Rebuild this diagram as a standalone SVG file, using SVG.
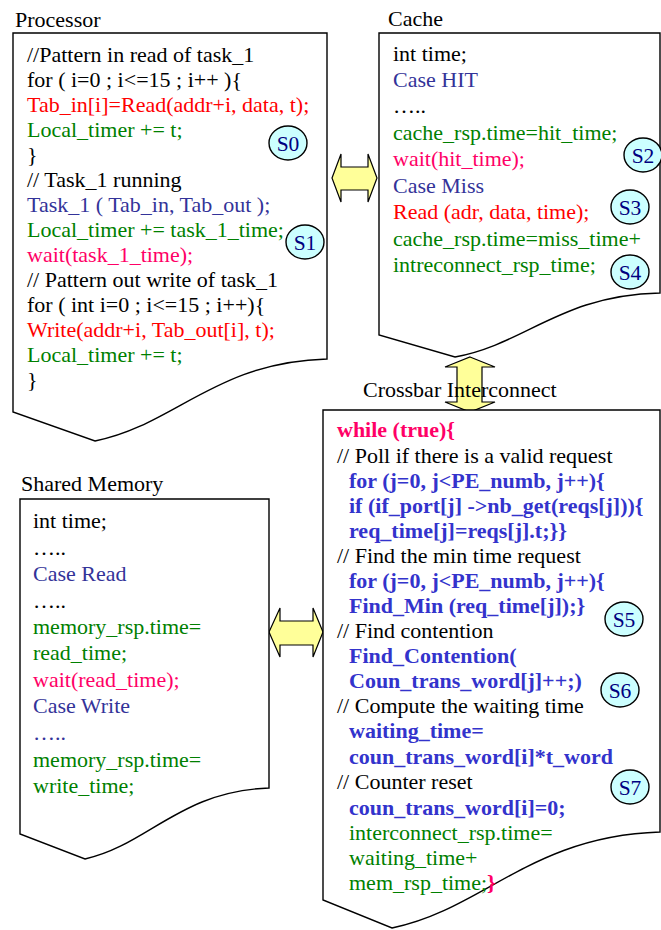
<svg xmlns="http://www.w3.org/2000/svg" width="661" height="930" viewBox="0 0 661 930">
  <style>
    text { font-family: "Liberation Serif", "Times New Roman", serif; font-size: 22px; fill: #000; }
    .box { fill: #fff; stroke: #000; stroke-width: 1.4; }
    .arrow { fill: #ffff99; stroke: #000; stroke-width: 1.2; stroke-linejoin: miter; }
    .blk { fill: #000; }
    .blu { fill: #333399; }
    .red { fill: #ff0000; }
    .grn { fill: #008000; }
    .pnk { fill: #ff0066; }
    .bb { fill: #3333cc; font-weight: bold; }
    .bp { fill: #ff0066; font-weight: bold; }
    .tag ellipse { fill: #ccffff; stroke: #000; stroke-width: 1.4; }
    .tag text { fill: #000080; text-anchor: middle; font-size: 21.5px; }
  </style>

  <!-- double-headed connectors between the blocks -->
  <g id="connectors">
    <polygon class="arrow" points="332,178 341,154 341,167 368,167 368,154 377,178 368,202 368,190 341,190 341,202"/>
    <polygon class="arrow" points="470,357 495,367 482,367 482,402 495,402 470,412 445,402 457,402 457,367 445,367"/>
    <polygon class="arrow" points="269,632 280,608 280,621 313,621 313,608 323,632 313,657 313,645 280,645 280,657"/>
  </g>

  <!-- Processor -->
  <g id="processor">
    <path class="box" d="M13,33 H327 V359 C215,362 175,425 95,441 L13,412 Z"/>
    <text x="15" y="27">Processor</text>
    <text x="27" y="62" class="blk">//Pattern in read of task_1</text>
    <text x="27" y="87" class="blk">for ( i=0 ; i&lt;=15 ; i++ ){</text>
    <text x="27" y="112" class="red">Tab_in[i]=Read(addr+i, data, t);</text>
    <text x="27" y="137" class="grn">Local_timer += t;</text>
    <text x="27" y="162" class="blk">}</text>
    <text x="27" y="187" class="blk">// Task_1 running</text>
    <text x="27" y="212" class="blu">Task_1 ( Tab_in, Tab_out );</text>
    <text x="27" y="237" class="grn">Local_timer += task_1_time;</text>
    <text x="27" y="262" class="pnk">wait(task_1_time);</text>
    <text x="27" y="287" class="blk">// Pattern out write of task_1</text>
    <text x="27" y="312" class="blk">for ( int i=0 ; i&lt;=15 ; i++){</text>
    <text x="27" y="337" class="red">Write(addr+i, Tab_out[i], t);</text>
    <text x="27" y="362" class="grn">Local_timer += t;</text>
    <text x="27" y="387" class="blk">}</text>
    <g class="tag"><ellipse cx="288" cy="143" rx="19" ry="17"/><text x="288" y="151">S0</text></g>
    <g class="tag"><ellipse cx="305" cy="242" rx="19" ry="17"/><text x="305" y="250">S1</text></g>
  </g>

  <!-- Cache -->
  <g id="cache">
    <path class="box" d="M379,33 H660 V293 C561,295 526,344 455,357 L379,335 Z"/>
    <text x="388" y="26">Cache</text>
    <text x="393" y="61" class="blk">int time;</text>
    <text x="393" y="87" class="blu">Case HIT</text>
    <text x="393" y="113" class="blk">…..</text>
    <text x="393" y="140" class="grn">cache_rsp.time=hit_time;</text>
    <text x="393" y="166" class="pnk">wait(hit_time);</text>
    <text x="393" y="193" class="blu">Case Miss</text>
    <text x="393" y="219" class="red">Read (adr, data, time);</text>
    <text x="393" y="246" class="grn">cache_rsp.time=miss_time+</text>
    <text x="393" y="272" class="grn">intreconnect_rsp_time;</text>
    <g class="tag"><ellipse cx="643" cy="155" rx="19" ry="17"/><text x="643" y="163">S2</text></g>
    <g class="tag"><ellipse cx="630" cy="207" rx="19" ry="17"/><text x="630" y="215">S3</text></g>
    <g class="tag"><ellipse cx="630" cy="272" rx="19" ry="17"/><text x="630" y="280">S4</text></g>
  </g>

  <!-- Crossbar Interconnect -->
  <g id="crossbar">
    <path class="box" d="M323,410 H660 V832 C531,836 484,909 392,928 L323,900 Z"/>
    <text x="363" y="397">Crossbar Interconnect</text>
    <text x="337" y="437" class="bp">while (true){</text>
    <text x="337" y="463" class="blk">// Poll if there is a valid request</text>
    <text x="349" y="488" class="bb">for (j=0, j&lt;PE_numb, j++){</text>
    <text x="349" y="513" class="bb">if (if_port[j] -&gt;nb_get(reqs[j])){</text>
    <text x="349" y="538" class="bb">req_time[j]=reqs[j].t;}}</text>
    <text x="337" y="563" class="blk">// Find the min time request</text>
    <text x="349" y="588" class="bb">for (j=0, j&lt;PE_numb, j++){</text>
    <text x="349" y="613" class="bb">Find_Min (req_time[j]);}</text>
    <text x="337" y="638" class="blk">// Find contention</text>
    <text x="349" y="663" class="bb">Find_Contention(</text>
    <text x="349" y="688" class="bb">Coun_trans_word[j]++;)</text>
    <text x="337" y="713" class="blk">// Compute the waiting time</text>
    <text x="349" y="738" class="bb">waiting_time=</text>
    <text x="349" y="764" class="bb">coun_trans_word[i]*t_word</text>
    <text x="337" y="789" class="blk">// Counter reset</text>
    <text x="349" y="815" class="bb">coun_trans_word[i]=0;</text>
    <text x="349" y="840" class="grn">interconnect_rsp.time=</text>
    <text x="349" y="865" class="grn">waiting_time+</text>
    <text x="349" y="890" class="grn">mem_rsp_time;<tspan class="bp">}</tspan></text>
    <g class="tag"><ellipse cx="624" cy="619" rx="19" ry="17"/><text x="624" y="627">S5</text></g>
    <g class="tag"><ellipse cx="620" cy="690" rx="19" ry="17"/><text x="620" y="698">S6</text></g>
    <g class="tag"><ellipse cx="630" cy="787" rx="19" ry="17"/><text x="630" y="795">S7</text></g>
  </g>

  <!-- Shared Memory -->
  <g id="shared-memory">
    <path class="box" d="M20,499 H269 V788 C180,791 148,845 85,859 L20,834 Z"/>
    <text x="21" y="491">Shared Memory</text>
    <text x="33" y="528" class="blk">int time;</text>
    <text x="33" y="555" class="blk">…..</text>
    <text x="33" y="581" class="blu">Case Read</text>
    <text x="33" y="608" class="blk">…..</text>
    <text x="33" y="634" class="grn">memory_rsp.time=</text>
    <text x="33" y="660" class="grn">read_time;</text>
    <text x="33" y="687" class="pnk">wait(read_time);</text>
    <text x="33" y="713" class="blu">Case Write</text>
    <text x="33" y="740" class="blu">…..</text>
    <text x="33" y="767" class="grn">memory_rsp.time=</text>
    <text x="33" y="793" class="grn">write_time;</text>
  </g>
</svg>
